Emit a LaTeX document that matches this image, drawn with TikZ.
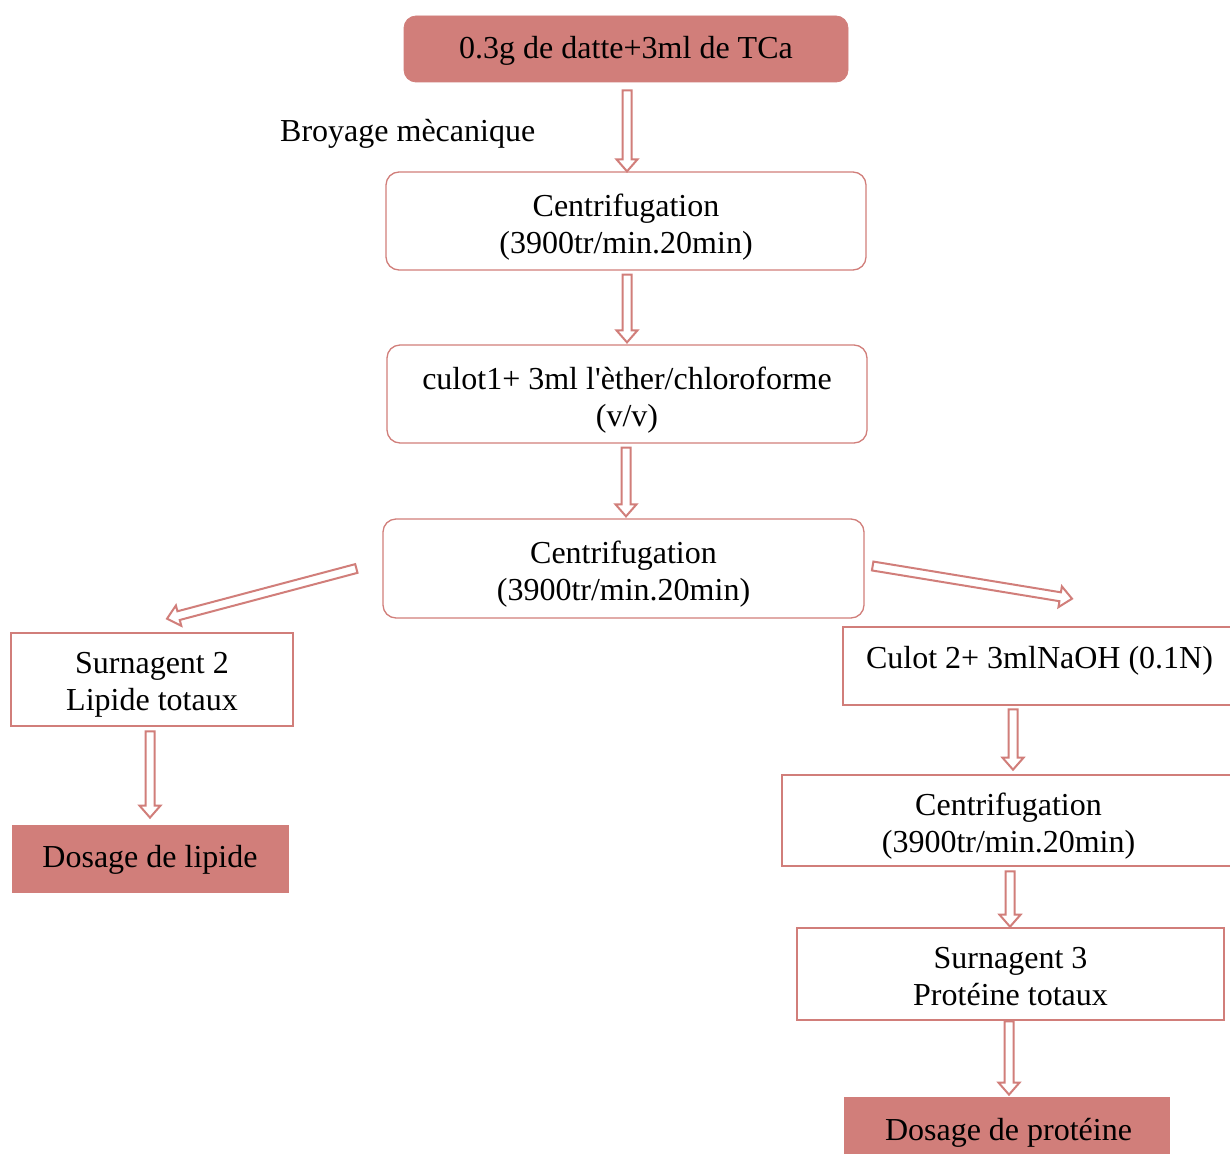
\documentclass[tikz,border=0pt]{standalone}
\usepackage{fontspec}
\setmainfont{Liberation Serif}
\usetikzlibrary{calc}
\definecolor{rose}{RGB}{209,126,122}
\tikzset{
  base/.style={draw=rose, align=center, inner sep=0pt, font=\fontsize{32}{37}\selectfont},
  rbox/.style={base, rounded corners=13pt, line width=1.3pt},
  sbox/.style={base, line width=2.6pt},
  fbox/.style={base, fill=rose, line width=0.8pt},
  harr/.style={draw=rose, line width=2pt, fill=white, line join=miter},
}
\newcommand\tl[2]{\raisebox{-#1}[\height][\depth]{\begin{tabular}{@{}c@{}}#2\end{tabular}}}
\newcommand\harrow[2]{%
  \coordinate (hs) at #1; \coordinate (he) at #2;
  \coordinate (hb) at ($(he)!12pt!(hs)$);
  \draw[harr] ($(hs)!4.5pt!90:(he)$) -- ($(hb)!4.5pt!-90:(hs)$) -- ($(hb)!10.5pt!-90:(hs)$)
    -- (he) -- ($(hb)!10.5pt!90:(hs)$) -- ($(hb)!4.5pt!90:(hs)$) -- ($(hs)!4.5pt!-90:(he)$) -- cycle;}
\begin{document}
\begin{tikzpicture}[x=1pt,y=-1pt]
\useasboundingbox (0,0) rectangle (1230,1153);
\clip (0,0) rectangle (1230,1153);
\fill[white] (0,0) rectangle (1230,1153);

\node[fbox, rounded corners=12pt, minimum width=444pt, minimum height=66pt] (top) at (626,49) {\tl{2pt}{0.3g de datte+3ml de TCa}};
\node[font=\fontsize{32}{37}\selectfont, anchor=west, inner sep=0pt] (broy) at (280,134) {Broyage mècanique};
\node[rbox, minimum width=480pt, minimum height=98pt] (c1) at (626,221) {\tl{6.5pt}{Centrifugation\\(3900tr/min.20min)}};
\node[rbox, minimum width=480pt, minimum height=98pt] (cu1) at (627,394) {\tl{6.5pt}{culot1+ 3ml l\textquotesingle èther/chloroforme\\(v/v)}};
\node[rbox, minimum width=481pt, minimum height=99pt] (c2) at (623.5,568.5) {\tl{6pt}{Centrifugation\\(3900tr/min.20min)}};
\node[sbox, minimum width=282pt, minimum height=93pt] (s2) at (152,679.5) {\tl{5pt}{Surnagent 2\\Lipide totaux}};
\node[fbox, minimum width=276pt, minimum height=67pt] (dl) at (150,858.5) {\tl{1.5pt}{Dosage de lipide}};
\node[sbox, minimum width=389pt, minimum height=78pt] (cu2) at (1037.5,666) {\tl{-5pt}{\hspace*{4pt}Culot 2+ 3mlNaOH (0.1N)}};
\node[sbox, minimum width=453pt, minimum height=91pt] (c3) at (1008.5,820.5) {\tl{6pt}{Centrifugation\\(3900tr/min.20min)}};
\node[sbox, minimum width=427pt, minimum height=92pt] (s3) at (1010.5,974) {\tl{5.5pt}{Surnagent 3\\Protéine totaux}};
\node[fbox, minimum width=325pt, minimum height=63pt] (dp) at (1006.5,1128.5) {\tl{4.5pt}{\hspace*{4pt}Dosage de protéine}};

\harrow{([shift={(1pt,-8pt)}]top.south)}{([xshift=1pt]c1.north)}
\harrow{([shift={(1pt,-4pt)}]c1.south)}{([yshift=2pt]cu1.north)}
\harrow{([shift={(-1pt,-4pt)}]cu1.south)}{([shift={(2.5pt,2pt)}]c2.north)}
\harrow{([shift={(-26pt,0pt)}]c2.west)}{([shift={(15pt,13pt)}]s2.north)}
\harrow{([shift={(8pt,2.5pt)}]c2.east)}{([shift={(34.5pt,27pt)}]cu2.north)}
\harrow{([shift={(-2pt,-4pt)}]s2.south)}{([yshift=7pt]dl.north)}
\harrow{([shift={(-24.5pt,-3pt)}]cu2.south)}{([shift={(4.5pt,4pt)}]c3.north)}
\harrow{([shift={(1.5pt,-4pt)}]c3.south)}{([xshift=-0.5pt]s3.north)}
\harrow{([shift={(-1.5pt,0pt)}]s3.south)}{([shift={(2.5pt,2pt)}]dp.north)}
\end{tikzpicture}
\end{document}
